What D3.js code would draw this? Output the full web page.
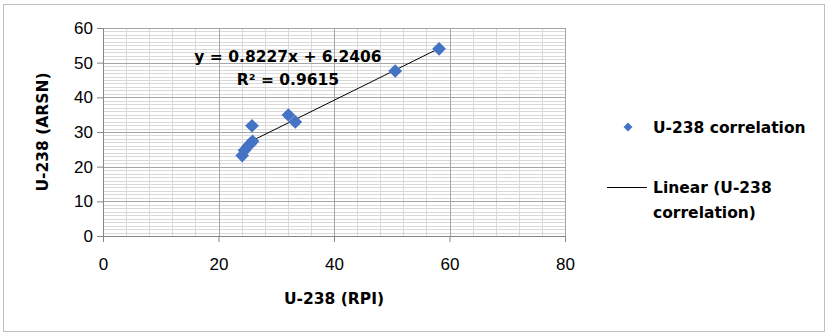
<!DOCTYPE html>
<html>
<head>
<meta charset="utf-8">
<script src="https://cdn.jsdelivr.net/npm/d3@7"></script>
<style>
  body { margin: 0; background: #fff; }
  text { font-family: "Liberation Sans", Arial, sans-serif; }
  .heavy { font-family: "DejaVu Sans", sans-serif; font-weight: bold; }
</style>
</head>
<body>
<div id="chart"></div>
<script>
// data
var rpiValues = [24.1, 24.5, 25.5, 25.9, 25.8, 32.1, 33.3, 50.6, 58.2];
var arsnValues = [23.2, 24.7, 26.6, 27.3, 31.8, 34.9, 32.9, 47.6, 54.0];
var xTicks = [0, 20, 40, 60, 80];
var yTicks = [0, 10, 20, 30, 40, 50, 60];
var slope = 0.8227, intercept = 6.2406;
var fitLabels = ["y = 0.8227x + 6.2406", "R\u00b2 = 0.9615"];
var legendLabels = ["U-238 correlation", "Linear (U-238", "correlation)"];

var W = 828, H = 335;
var margin = { top: 28, right: 263, bottom: 99, left: 103 },
    width = W - margin.left - margin.right,
    height = H - margin.top - margin.bottom;

var svg = d3.select("#chart").append("svg")
    .attr("width", W)
    .attr("height", H);

// outer frame
svg.append("rect")
    .attr("x", 3.5).attr("y", 4.5)
    .attr("width", W - 7).attr("height", H - 8)
    .attr("fill", "none")
    .attr("stroke", "#bfbfbf");

var g = svg.append("g")
    .attr("transform", "translate(" + margin.left + "," + margin.top + ")");

var x = d3.scaleLinear().domain([0, 80]).range([0, width]);
var y = d3.scaleLinear().domain([0, 60]).range([height, 0]);

// minor grid
g.append("g").selectAll("line")
    .data(d3.range(0, 61, 1).filter(function (d) { return d % 10 !== 0; }))
    .enter().append("line")
    .attr("x1", 0).attr("x2", width)
    .attr("y1", function (d) { return Math.round(y(d)) + 0.5; })
    .attr("y2", function (d) { return Math.round(y(d)) + 0.5; })
    .attr("stroke", "#d9d9d9");
g.append("g").selectAll("line")
    .data(d3.range(0, 81, 4).filter(function (d) { return d % 20 !== 0; }))
    .enter().append("line")
    .attr("y1", 0).attr("y2", height)
    .attr("x1", function (d) { return Math.round(x(d)) + 0.5; })
    .attr("x2", function (d) { return Math.round(x(d)) + 0.5; })
    .attr("stroke", "#d9d9d9");

// major grid
g.append("g").selectAll("line")
    .data(yTicks.slice(1))
    .enter().append("line")
    .attr("x1", 0).attr("x2", width)
    .attr("y1", function (d) { return Math.round(y(d)) + 0.5; })
    .attr("y2", function (d) { return Math.round(y(d)) + 0.5; })
    .attr("stroke", "#a6a6a6");
g.append("g").selectAll("line")
    .data(xTicks.slice(1))
    .enter().append("line")
    .attr("y1", 0).attr("y2", height)
    .attr("x1", function (d) { return Math.round(x(d)) + 0.5; })
    .attr("x2", function (d) { return Math.round(x(d)) + 0.5; })
    .attr("stroke", "#a6a6a6");

// axes
var xAxis = g.append("g")
    .attr("transform", "translate(0," + height + ")")
    .call(d3.axisBottom(x).tickValues(xTicks).tickSize(6).tickPadding(16));
var yAxis = g.append("g")
    .call(d3.axisLeft(y).tickValues(yTicks).tickSize(6).tickPadding(4));
[xAxis, yAxis].forEach(function (a) {
    a.select(".domain").attr("stroke", "#868686");
    a.selectAll(".tick line").attr("stroke", "#868686");
    a.selectAll("text")
        .attr("font-family", "Liberation Sans, Arial, sans-serif")
        .attr("font-size", 17)
        .attr("fill", "#000");
});

// trendline
var xmin = d3.min(rpiValues), xmax = d3.max(rpiValues);
g.append("line")
    .attr("x1", x(xmin)).attr("y1", y(slope * xmin + intercept))
    .attr("x2", x(xmax)).attr("y2", y(slope * xmax + intercept))
    .attr("stroke", "#000")
    .attr("stroke-width", 1);

// points
var diamond = d3.symbol().type(d3.symbolDiamond2).size(120);
g.append("g").selectAll("path")
    .data(rpiValues)
    .enter().append("path")
    .attr("d", diamond)
    .attr("transform", function (d, i) { return "translate(" + x(d) + "," + y(arsnValues[i]) + ")"; })
    .attr("fill", "#4472c4");

// fit label
g.append("text").attr("class", "heavy")
    .attr("x", 185).attr("y", 34)
    .attr("text-anchor", "middle")
    .attr("font-size", 15.5)
    .text(fitLabels[0]);
g.append("text").attr("class", "heavy")
    .attr("x", 185).attr("y", 57)
    .attr("text-anchor", "middle")
    .attr("font-size", 15.5)
    .text(fitLabels[1]);

// axis titles
svg.append("text").attr("class", "heavy")
    .attr("transform", "translate(48," + (margin.top + height / 2) + ") rotate(-90)")
    .attr("text-anchor", "middle")
    .attr("font-size", 15.5)
    .text("U-238 (ARSN)");
svg.append("text").attr("class", "heavy")
    .attr("x", margin.left + width / 2).attr("y", 304)
    .attr("text-anchor", "middle")
    .attr("font-size", 15.5)
    .text("U-238 (RPI)");

// legend
svg.append("path")
    .attr("d", d3.symbol().type(d3.symbolDiamond2).size(50))
    .attr("transform", "translate(628,127)")
    .attr("fill", "#4472c4");
svg.append("text").attr("class", "heavy")
    .attr("x", 653).attr("y", 133)
    .attr("font-size", 15.5)
    .text(legendLabels[0]);
svg.append("line")
    .attr("x1", 607).attr("x2", 647)
    .attr("y1", 187.5).attr("y2", 187.5)
    .attr("stroke", "#000");
svg.append("text").attr("class", "heavy")
    .attr("x", 653).attr("y", 193)
    .attr("font-size", 15.5)
    .text(legendLabels[1]);
svg.append("text").attr("class", "heavy")
    .attr("x", 653).attr("y", 218)
    .attr("font-size", 15.5)
    .text(legendLabels[2]);
</script>
</body>
</html>
